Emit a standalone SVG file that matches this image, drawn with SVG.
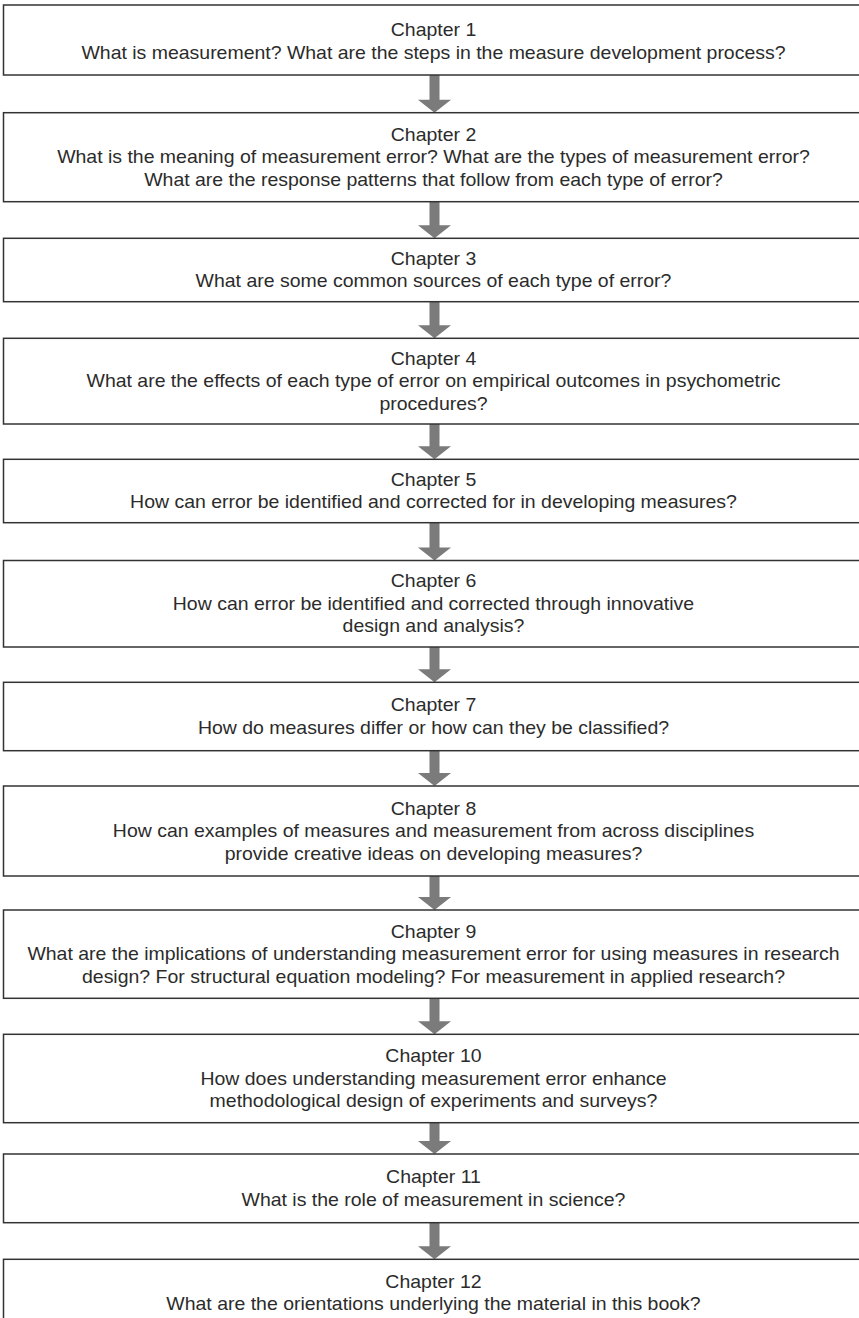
<svg xmlns="http://www.w3.org/2000/svg" width="859" height="1318" viewBox="0 0 859 1318">
<style>
.box{fill:#ffffff;stroke:#333333;stroke-width:1.5}
.t{font-family:"Liberation Sans",Arial,Helvetica,sans-serif;font-size:17.7px;fill:#2b2b2b;text-anchor:middle}
.arr{fill:#7b7b7b;stroke:none}
</style>
<rect x="0" y="0" width="859" height="1318" fill="#ffffff"/>
<g id="connectors">
<polygon class="arr" points="429.5,75 439.5,75 439.5,99.7 451,99.7 434.5,112.7 418,99.7 429.5,99.7"/>
<polygon class="arr" points="429.5,201.7 439.5,201.7 439.5,225.3 451,225.3 434.5,238.3 418,225.3 429.5,225.3"/>
<polygon class="arr" points="429.5,301.7 439.5,301.7 439.5,325.3 451,325.3 434.5,338.3 418,325.3 429.5,325.3"/>
<polygon class="arr" points="429.5,424 439.5,424 439.5,446.3 451,446.3 434.5,459.3 418,446.3 429.5,446.3"/>
<polygon class="arr" points="429.5,522.7 439.5,522.7 439.5,547.5 451,547.5 434.5,560.5 418,547.5 429.5,547.5"/>
<polygon class="arr" points="429.5,647 439.5,647 439.5,669.3 451,669.3 434.5,682.3 418,669.3 429.5,669.3"/>
<polygon class="arr" points="429.5,750.7 439.5,750.7 439.5,773 451,773 434.5,786 418,773 429.5,773"/>
<polygon class="arr" points="429.5,876 439.5,876 439.5,897 451,897 434.5,910 418,897 429.5,897"/>
<polygon class="arr" points="429.5,998.3 439.5,998.3 439.5,1021.3 451,1021.3 434.5,1034.3 418,1021.3 429.5,1021.3"/>
<polygon class="arr" points="429.5,1122.7 439.5,1122.7 439.5,1141 451,1141 434.5,1154 418,1141 429.5,1141"/>
<polygon class="arr" points="429.5,1222.7 439.5,1222.7 439.5,1246.3 451,1246.3 434.5,1259.3 418,1246.3 429.5,1246.3"/>
</g>
<g id="ch1">
<rect class="box" x="3.5" y="5" width="860" height="70"/>
<g transform="matrix(1.1 0 0 1 -43.35 0)">
<text class="t" x="433.5" y="36.5">Chapter 1</text>
<text class="t" x="433.5" y="59">What is measurement? What are the steps in the measure development process?</text>
</g>
</g>
<g id="ch2">
<rect class="box" x="3.5" y="112.7" width="860" height="89"/>
<g transform="matrix(1.1 0 0 1 -43.35 0)">
<text class="t" x="433.5" y="141">Chapter 2</text>
<text class="t" x="433.5" y="163.5">What is the meaning of measurement error? What are the types of measurement error?</text>
<text class="t" x="433.5" y="186">What are the response patterns that follow from each type of error?</text>
</g>
</g>
<g id="ch3">
<rect class="box" x="3.5" y="238.3" width="860" height="63.4"/>
<g transform="matrix(1.1 0 0 1 -43.35 0)">
<text class="t" x="433.5" y="265">Chapter 3</text>
<text class="t" x="433.5" y="287.5">What are some common sources of each type of error?</text>
</g>
</g>
<g id="ch4">
<rect class="box" x="3.5" y="338.3" width="860" height="85.7"/>
<g transform="matrix(1.1 0 0 1 -43.35 0)">
<text class="t" x="433.5" y="365">Chapter 4</text>
<text class="t" x="433.5" y="387.5">What are the effects of each type of error on empirical outcomes in psychometric</text>
<text class="t" x="433.5" y="410">procedures?</text>
</g>
</g>
<g id="ch5">
<rect class="box" x="3.5" y="459.3" width="860" height="63.4"/>
<g transform="matrix(1.1 0 0 1 -43.35 0)">
<text class="t" x="433.5" y="486">Chapter 5</text>
<text class="t" x="433.5" y="508.5">How can error be identified and corrected for in developing measures?</text>
</g>
</g>
<g id="ch6">
<rect class="box" x="3.5" y="560.5" width="860" height="86.5"/>
<g transform="matrix(1.1 0 0 1 -43.35 0)">
<text class="t" x="433.5" y="587.5">Chapter 6</text>
<text class="t" x="433.5" y="610">How can error be identified and corrected through innovative</text>
<text class="t" x="433.5" y="632.5">design and analysis?</text>
</g>
</g>
<g id="ch7">
<rect class="box" x="3.5" y="682.3" width="860" height="68.4"/>
<g transform="matrix(1.1 0 0 1 -43.35 0)">
<text class="t" x="433.5" y="711.5">Chapter 7</text>
<text class="t" x="433.5" y="734">How do measures differ or how can they be classified?</text>
</g>
</g>
<g id="ch8">
<rect class="box" x="3.5" y="786" width="860" height="90"/>
<g transform="matrix(1.1 0 0 1 -43.35 0)">
<text class="t" x="433.5" y="815">Chapter 8</text>
<text class="t" x="433.5" y="837.5">How can examples of measures and measurement from across disciplines</text>
<text class="t" x="433.5" y="860">provide creative ideas on developing measures?</text>
</g>
</g>
<g id="ch9">
<rect class="box" x="3.5" y="910" width="860" height="88.3"/>
<g transform="matrix(1.1 0 0 1 -43.35 0)">
<text class="t" x="433.5" y="938">Chapter 9</text>
<text class="t" x="433.5" y="960.5">What are the implications of understanding measurement error for using measures in research</text>
<text class="t" x="433.5" y="983">design? For structural equation modeling? For measurement in applied research?</text>
</g>
</g>
<g id="ch10">
<rect class="box" x="3.5" y="1034.3" width="860" height="88.4"/>
<g transform="matrix(1.1 0 0 1 -43.35 0)">
<text class="t" x="433.5" y="1062.3">Chapter 10</text>
<text class="t" x="433.5" y="1084.8">How does understanding measurement error enhance</text>
<text class="t" x="433.5" y="1107.3">methodological design of experiments and surveys?</text>
</g>
</g>
<g id="ch11">
<rect class="box" x="3.5" y="1154" width="860" height="68.7"/>
<g transform="matrix(1.1 0 0 1 -43.35 0)">
<text class="t" x="433.5" y="1183.4">Chapter 11</text>
<text class="t" x="433.5" y="1205.9">What is the role of measurement in science?</text>
</g>
</g>
<g id="ch12">
<rect class="box" x="3.5" y="1259.3" width="860" height="80"/>
<g transform="matrix(1.1 0 0 1 -43.35 0)">
<text class="t" x="433.5" y="1287.8">Chapter 12</text>
<text class="t" x="433.5" y="1310.3">What are the orientations underlying the material in this book?</text>
</g>
</g>
</svg>
